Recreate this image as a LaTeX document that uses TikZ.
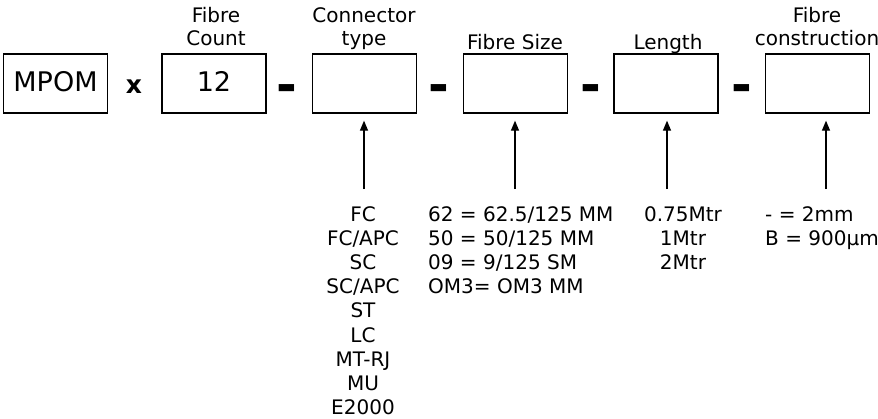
\documentclass[tikz,border=0pt]{standalone}
\usepackage{fontspec}
\setmainfont{DejaVu Sans}
\usetikzlibrary{arrows.meta}

\tikzset{
  codebox/.style={draw, line width=1.3pt, minimum width=104pt, minimum height=59pt, inner sep=0pt, text depth=5pt, font={\fontsize{27}{30}\selectfont}},
  lbl/.style={align=center, inner sep=0pt, font={\fontsize{20}{23}\selectfont}},
  sepmark/.style={inner sep=0pt, anchor=base, font={\fontsize{50}{50}\selectfont\bfseries}},
  optlist/.style={inner sep=0pt, font={\fontsize{20}{24.2}\selectfont}},
  arr/.style={line width=1.3pt, shorten >=7pt, -{Triangle[length=10pt,width=8pt]}}
}

\begin{document}
\begin{tikzpicture}[x=1pt, y=-1pt]
    \useasboundingbox (0,0) rectangle (878,418);

    % Code boxes
    \node[codebox] (mpom) at (55.5,83.5) {MPOM};
    \node[codebox] (count) at (214,83.5) {12};
    \node[codebox] (conn) at (364.5,83.5) {};
    \node[codebox] (size) at (515.5,83.5) {};
    \node[codebox] (len) at (666,83.5) {};
    \node[codebox] (constr) at (817.5,83.5) {};

    % Separators
    \node[sepmark, font={\fontsize{25}{25}\selectfont\bfseries}] (times) at (134,93) {x};
    \node[sepmark] (d1) at (287,102) {-};
    \node[sepmark] (d2) at (439,102) {-};
    \node[sepmark] (d3) at (591,102) {-};
    \node[sepmark] (d4) at (741.5,102) {-};

    % Headings above the boxes
    \node[lbl, anchor=north] (countlbl) at (216,7) {Fibre\\Count};
    \node[lbl, anchor=north] (connlbl) at (364,7) {Connector\\type};
    \node[lbl, anchor=base] (sizelbl) at (515,49) {Fibre Size};
    \node[lbl, anchor=base] (lenlbl) at (668,49) {Length};
    \node[lbl, anchor=north] (constrlbl) at (817,7) {Fibre\\construction};

    % Option lists
    \node[optlist, anchor=north, align=center] (connopt) at (363,206) {FC\\FC/APC\\SC\\SC/APC\\ST\\LC\\MT-RJ\\MU\\E2000};
    \node[optlist, anchor=north west, align=left] (sizeopt) at (428,206) {62 = 62.5/125 MM\\50 = 50/125 MM\\09 = 9/125 SM\\OM3= OM3 MM};
    \node[optlist, anchor=north, align=center] (lenopt) at (683,206) {0.75Mtr\\1Mtr\\2Mtr};
    \node[optlist, anchor=north west, align=left] (constropt) at (765,206) {- = 2mm\\B = 900µm};

    % Arrows up to the boxes
    \coordinate (t1) at (364,189);
    \coordinate (t2) at (515,189);
    \coordinate (t3) at (667,189);
    \coordinate (t4) at (826,189);
    \draw[arr] (t1) -- (t1 |- conn.south);
    \draw[arr] (t2) -- (t2 |- size.south);
    \draw[arr] (t3) -- (t3 |- len.south);
    \draw[arr] (t4) -- (t4 |- constr.south);
\end{tikzpicture}
\end{document}
